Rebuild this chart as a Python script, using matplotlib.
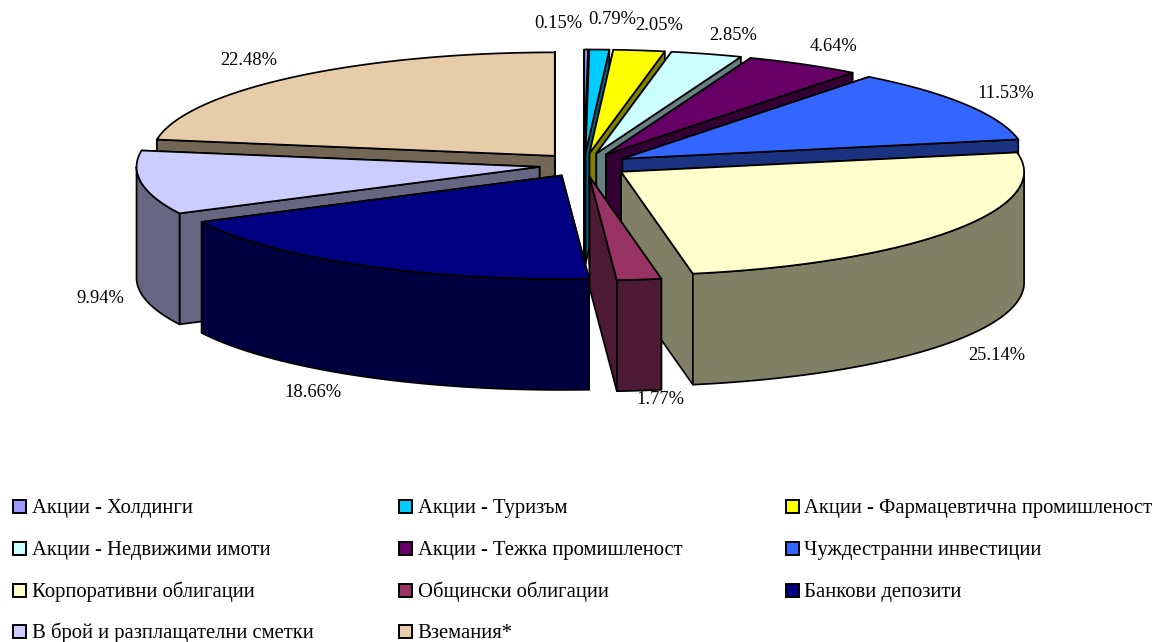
import numpy as np
import matplotlib
matplotlib.use("Agg")
import matplotlib.pyplot as plt
from matplotlib.patches import Polygon, Rectangle
from matplotlib.colors import to_rgb

names = ["Акции - Холдинги", "Акции - Туризъм", "Акции - Фармацевтична промишленост",
         "Акции - Недвижими имоти", "Акции - Тежка промишленост", "Чуждестранни инвестиции",
         "Корпоративни облигации", "Общински облигации", "Банкови депозити",
         "В брой и разплащателни сметки", "Вземания*"]
values = [0.15, 0.79, 2.05, 2.85, 4.64, 11.53, 25.14, 1.77, 18.66, 9.94, 22.48]
colors = ["#9999FF", "#00CCFF", "#FFFF00", "#CCFFFF", "#660066", "#3366FF",
          "#FFFFCC", "#993366", "#000080", "#CCCCFF", "#E6CCA8"]

# label centres in pixels
label_x = [558, 612, 659, 733, 834, 1006, 997, 660, 313, 100, 249]
label_y = [23.5, 19.5, 25.5, 35.5, 46.5, 93.5, 355.5, 399.5, 392.5, 298.5, 60.5]

# legend layout
legend_cols = [13, 398.5, 785.5]
legend_rows = [506, 548, 590, 631]

CX, CY = 584, 165      # pie centre before explosion
RX, RY = 403, 103.5    # top ellipse
EX, EY = 45, 12        # explosion
DEPTH = 111

plt.rcParams["font.family"] = ["Liberation Serif", "DejaVu Serif"]

fig = plt.figure(figsize=(11.54, 6.42), dpi=100)
ax = fig.add_axes([0, 0, 1, 1])
ax.set_xlim(0, 1154)
ax.set_ylim(642, 0)
ax.axis("off")


def arc(ox, oy, a0, a1):
    # angles in degrees, clockwise from the top
    t = np.radians(np.linspace(a0, a1, max(int(abs(a1 - a0)) * 2, 2)))
    return np.column_stack([ox + RX * np.sin(t), oy - RY * np.cos(t)])


def face(pts, color, z):
    ax.add_patch(Polygon(pts, closed=True, facecolor=color, edgecolor="black",
                         linewidth=1.25, joinstyle="round", zorder=z))


edges = np.cumsum([0] + values) / sum(values) * 360
mids = (edges[:-1] + edges[1:]) / 2
# paint from the back of the pie to the front
order = np.argsort(-np.cos(np.radians(mids)))

z = 1
for i in order:
    a0, a1 = edges[i], edges[i + 1]
    m = np.radians(mids[i])
    ox = CX + EX * np.sin(m)
    oy = CY - EY * np.cos(m)
    side = tuple(c * 0.5 for c in to_rgb(colors[i]))
    down = np.array([0, DEPTH])
    apex = np.array([ox, oy])

    walls = []
    for a in (a0, a1):
        p = arc(ox, oy, a, a)[0]
        walls.append(np.array([apex, p, p + down, apex + down]))
    # only the part of the rim that faces the viewer
    r0, r1 = max(a0, 90), min(a1, 270)
    if r1 > r0:
        rim = arc(ox, oy, r0, r1)
        walls.append(np.vstack([rim, (rim + down)[::-1]]))
    walls.sort(key=lambda w: w[:, 1].max())
    for w in walls:
        face(w, side, z)
        z += 1
    face(np.vstack([apex, arc(ox, oy, a0, a1)]), colors[i], z)
    z += 1

for v, x, y in zip(values, label_x, label_y):
    ax.text(x, y, f"{v:.2f}%", ha="center", va="center", fontsize=13.3, color="black", zorder=z)

for i, name in enumerate(names):
    x = legend_cols[i % 3]
    y = legend_rows[i // 3]
    ax.add_patch(Rectangle((x, y - 6.5), 13, 13, facecolor=colors[i], edgecolor="black",
                           linewidth=1.4, zorder=z))
    ax.text(x + 19, y + 2, name, ha="left", va="center", fontsize=14.85, color="black", zorder=z)

fig.savefig("out.png", dpi=100, facecolor="white")
